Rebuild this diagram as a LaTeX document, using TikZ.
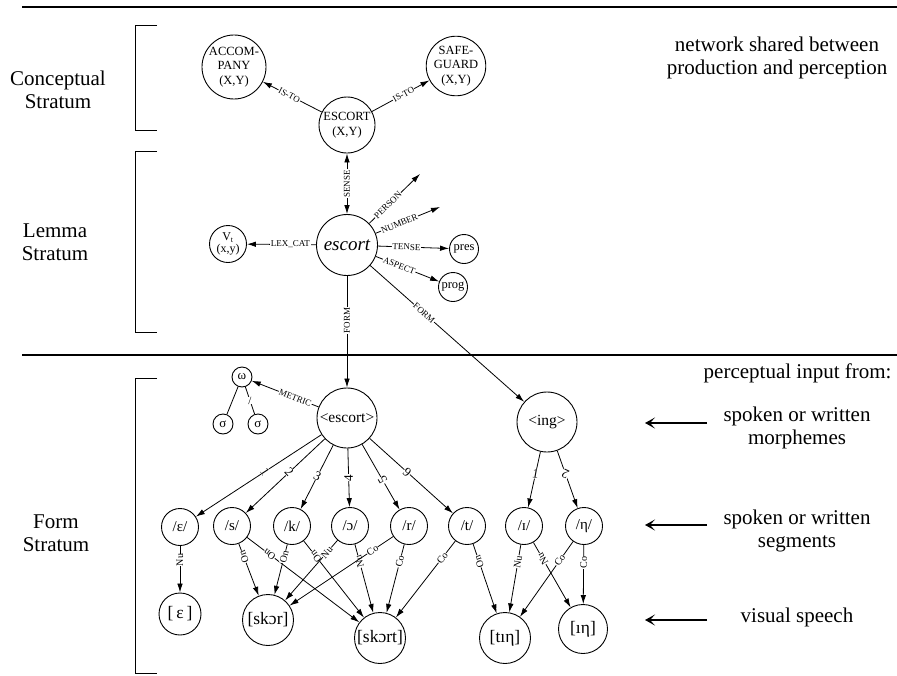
\documentclass[tikz,border=0pt]{standalone}
\usepackage{fontspec}
\setmainfont{Liberation Serif}
\usetikzlibrary{arrows.meta}
\newcommand\fs[2]{\fontsize{#1}{#2}\selectfont}
\begin{document}
\begin{tikzpicture}[x=1pt,y=-1pt,
  circ/.style={draw, circle, line width=0.9pt, inner sep=0pt, align=center},
  lab/.style={fill=white, inner sep=0.6pt, font=\fs{9}{9}},
  numlab/.style={fill=white, inner sep=0.4pt, font=\fs{13}{13}},
  flab/.style={fill=white, inner sep=0.3pt, font=\fs{10}{10}, pos=0.25},
  arr/.style={line width=0.8pt, -{Latex[length=9pt,width=5.5pt]}},
  dblarr/.style={line width=0.8pt, {Latex[length=9pt,width=5.5pt]}-{Latex[length=9pt,width=5.5pt]}},
  plain/.style={line width=0.8pt},
  bigarr/.style={line width=1.2pt, -{Stealth[length=10pt,width=11pt,inset=5pt]}},
  bracket/.style={line width=1pt},
  rule/.style={line width=1.3pt},
  side/.style={font=\fs{21}{23}, align=center}
]
\useasboundingbox (0,0) rectangle (897,675);

% rules and brackets
\draw[rule] (22,7) -- (897,7);
\draw[rule] (22,355) -- (897,355);
\draw[bracket] (157,25) -- (135,25) -- (135,130) -- (157,130);
\draw[bracket] (157,151) -- (135,151) -- (135,332) -- (157,332);
\draw[bracket] (157,378) -- (135,378) -- (135,673) -- (157,673);

% side texts
\node[side] (tcon) at (58,90) {Conceptual\\Stratum};
\node[side] (tlem) at (55,242) {Lemma\\Stratum};
\node[side] (tform) at (56,533) {Form\\Stratum};
\node[side] (tnet) at (777,58) {network shared between\\production and perception};
\node[side, anchor=east] (tperc) at (895,373) {perceptual input from:};
\node[side] (tmorph) at (797,428) {spoken or written\\morphemes};
\node[side] (tseg) at (797,531) {spoken or written\\segments};
\node[side] (tvis) at (797,617) {visual speech};

\coordinate (a1s) at (707,423); \coordinate (a1e) at (645,423);
\coordinate (a2s) at (707,525); \coordinate (a2e) at (645,525);
\coordinate (a3s) at (707,620); \coordinate (a3e) at (645,620);
\draw[bigarr] (a1s) -- (a1e);
\draw[bigarr] (a2s) -- (a2e);
\draw[bigarr] (a3s) -- (a3e);

% conceptual stratum
\node[circ, minimum size=57pt, font=\fs{12.5}{14.5}] (ACC) at (234,67) {ACCOM-\\PANY\\(X,Y)};
\node[circ, minimum size=57pt, font=\fs{12.5}{14.5}] (SAFE) at (456,66) {SAFE-\\GUARD\\(X,Y)};
\node[circ, minimum size=56pt, font=\fs{12.5}{15}] (ESC) at (347,125) {ESCORT\\(X,Y)};
\draw[arr] (ESC) -- node[lab, sloped, pos=0.55] {IS-TO} (ACC);
\draw[arr] (ESC) -- node[lab, sloped, pos=0.55] {IS-TO} (SAFE);

% lemma stratum
\node[circ, minimum size=61pt, font=\fs{19}{19}\itshape] (esc) at (347,245) {escort};
\node[circ, minimum size=37pt, font=\fs{12}{12}] (Vt) at (228,244) {V\textsubscript{t}\\(x,y)};
\node[circ, minimum size=29pt, font=\fs{12.5}{12.5}] (pres) at (464,249) {pres};
\node[circ, minimum size=29pt, font=\fs{12.5}{12.5}] (prog) at (453,287) {prog};
\coordinate (pe) at (420,174);
\coordinate (nu) at (440,207);
\draw[dblarr] (esc) -- node[lab, rotate=90] {SENSE} (ESC);
\draw[arr] (esc) -- node[lab, sloped, pos=0.37] {PERSON} (pe);
\draw[arr] (esc) -- node[lab, sloped, pos=0.37] {NUMBER} (nu);
\draw[arr] (esc) -- node[lab, sloped, pos=0.4] {TENSE} (pres);
\draw[arr] (esc) -- node[lab, sloped, pos=0.37] {ASPECT} (prog);
\draw[arr] (esc) -- node[lab, pos=0.37] {LEX\_CAT} (Vt);

% form stratum: morphemes
\node[circ, minimum size=60pt, font=\fs{15.5}{15.5}] (mesc) at (347,418) {<escort>};
\node[circ, minimum size=60pt, font=\fs{15.5}{15.5}] (ing) at (547,422) {<ing>};
\draw[arr] (esc) -- node[lab, rotate=90, pos=0.4] {FORM} (mesc);
\draw[arr] (esc) -- node[lab, sloped, pos=0.35] {FORM} (ing);

% metrical tree
\node[circ, minimum size=20pt, font=\fs{13}{13}] (om) at (242,377) {ω};
\node[circ, minimum size=20pt, font=\fs{13}{13}] (sl) at (223,424) {σ};
\node[circ, minimum size=20pt, font=\fs{13}{13}] (sr) at (258,424) {σ};
\draw[arr] (mesc) -- node[lab, sloped, pos=0.35] {METRIC} (om);
\draw[plain] (om) -- (sl);
\draw[plain] (om) -- node[fill=white, inner sep=0pt, font=\fs{11}{11}] {/} (sr);

% segments
\tikzset{seg/.style={circ, minimum size=37pt, font=\fs{15}{15}}}
\node[seg] (e) at (180,527) {/ε/};
\node[seg] (s) at (232,526) {/s/};
\node[seg] (k) at (292,526) {/k/};
\node[seg] (o) at (350,526) {/ɔ/};
\node[seg] (r) at (409,526) {/r/};
\node[seg] (t) at (467,526) {/t/};
\node[seg] (I) at (524,526) {/ɪ/};
\node[seg] (ng) at (584,526) {/η/};

\draw[arr] (mesc) -- node[numlab, pos=0.45, rotate=-57] {1} (e);
\draw[arr] (mesc) -- node[numlab, pos=0.45, rotate=-47] {2} (s);
\draw[arr] (mesc) -- node[numlab, pos=0.48, rotate=-27] {3} (k);
\draw[arr] (mesc) -- node[numlab, pos=0.5, rotate=90] {4} (o);
\draw[arr] (mesc) -- node[numlab, pos=0.55, rotate=120] {5} (r);
\draw[arr] (mesc) -- node[numlab, pos=0.45, rotate=138] {6} (t);
\draw[arr] (ing) -- node[numlab, pos=0.4, rotate=-10] {1} (I);
\draw[arr] (ing) -- node[numlab, pos=0.4, rotate=155] {2} (ng);

% visual speech nodes
\tikzset{vis/.style={circ, font=\fs{17.5}{17.5}}}
\node[vis, minimum size=42pt] (E) at (180,614) {[\,ε\,]};
\node[vis, minimum size=51pt] (skor) at (268,620) {[skɔr]};
\node[vis, minimum size=51pt] (skort) at (380,638) {[skɔrt]};
\node[vis, minimum size=51pt] (ting) at (505,638) {[tıη]};
\node[vis, minimum size=49pt] (ing2) at (583,629) {[ıη]};

\draw[arr] (e) -- node[flab, pos=0.3, rotate=90] {Nu} (E);
\draw[arr] (s) -- node[flab, rotate=111] {On} (skor);
\draw[arr] (s) -- node[flab, pos=0.2, rotate=143] {On} (skort);
\draw[arr] (k) -- node[flab, rotate=76] {On} (skor);
\draw[arr] (k) -- node[flab, pos=0.2, rotate=128] {On} (skort);
\draw[arr] (o) -- node[flab, pos=0.2, rotate=49] {Nu} (skor);
\draw[arr] (o) -- node[flab, rotate=105] {Nu} (skort);
\draw[arr] (r) -- node[flab, pos=0.2, rotate=34] {Co} (skor);
\draw[arr] (r) -- node[flab, rotate=76] {Co} (skort);
\draw[arr] (t) -- node[flab, pos=0.22, rotate=52] {Co} (skort);
\draw[arr] (t) -- node[flab, rotate=109] {On} (ting);
\draw[arr] (I) -- node[flab, rotate=80] {Nu} (ting);
\draw[arr] (I) -- node[flab, rotate=120] {Nu} (ing2);
\draw[arr] (ng) -- node[flab, rotate=55] {Co} (ting);
\draw[arr] (ng) -- node[flab, pos=0.3, rotate=89] {Co} (ing2);
\end{tikzpicture}
\end{document}
